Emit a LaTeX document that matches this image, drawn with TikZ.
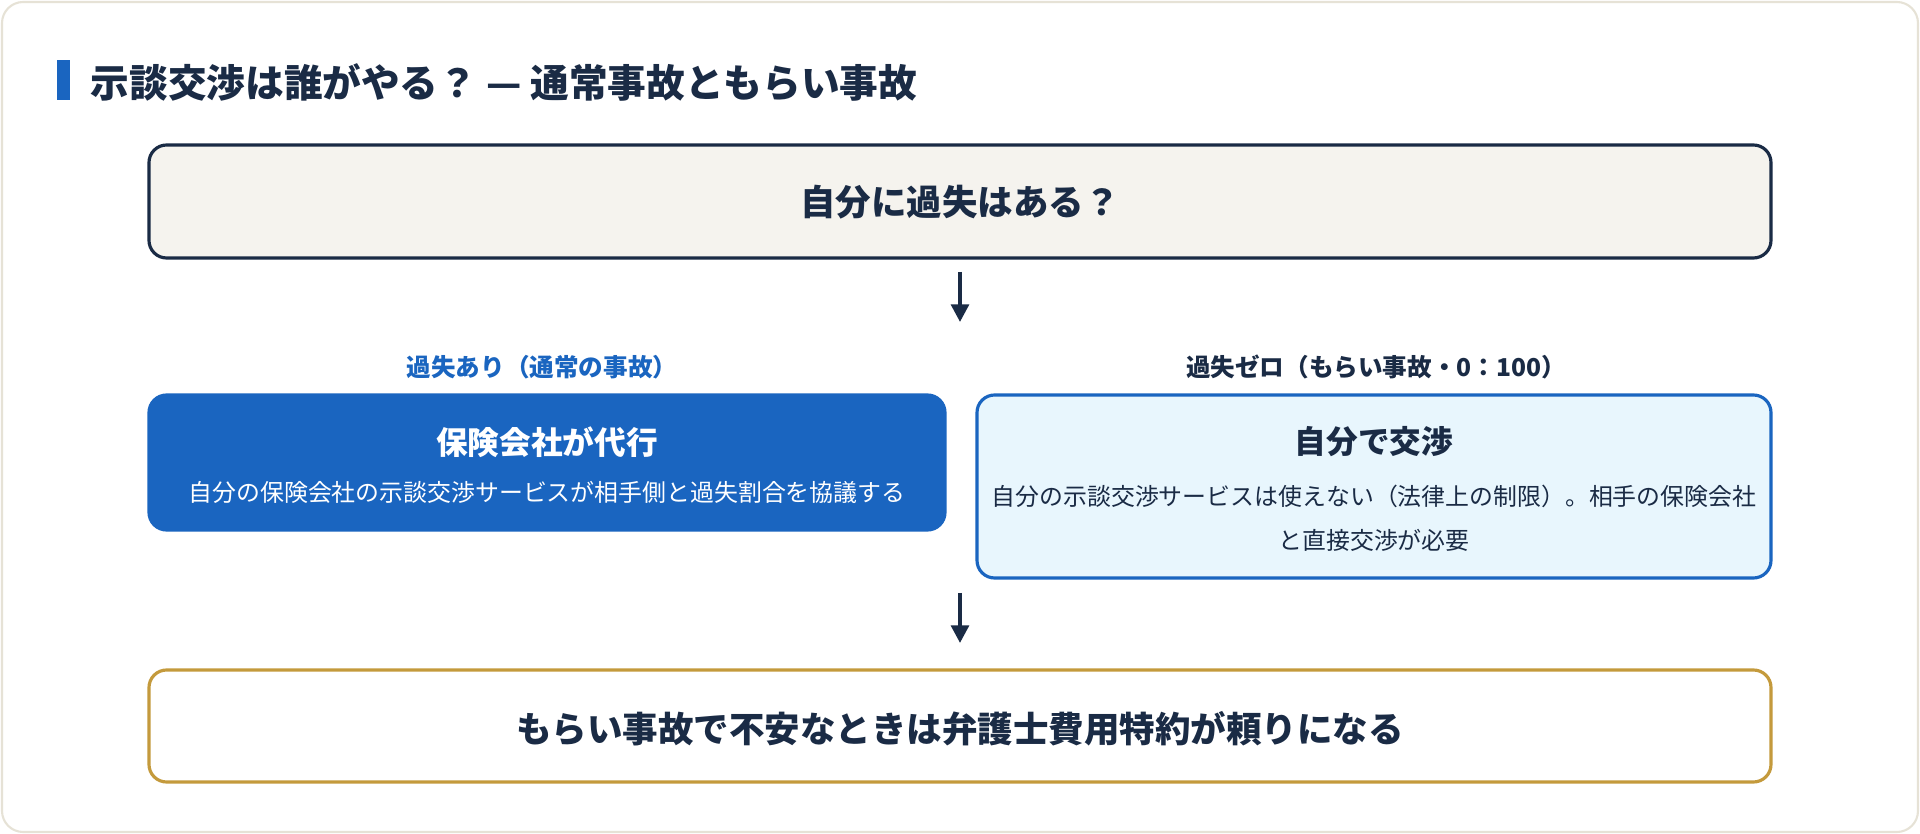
\documentclass[tikz,border=0pt]{standalone}
\usepackage{fontspec}
\setmainfont{Noto Sans CJK JP}
\usetikzlibrary{arrows.meta,positioning}
\definecolor{navy}{HTML}{1A2B45}
\definecolor{cardline}{HTML}{E6E2D6}
\definecolor{askfill}{HTML}{F5F3EE}
\definecolor{mainblue}{HTML}{1A65C0}
\definecolor{paleblue}{HTML}{E8F6FD}
\definecolor{gold}{HTML}{C49A3C}
\tikzset{
  box/.style={rounded corners=5pt, line width=0.9pt, inner sep=0pt},
  flow/.style={-{Triangle[length=5pt,width=5pt]}, line width=1.1pt, draw=navy},
  big/.style={font=\fontsize{10.1}{12}\selectfont\bfseries, text=navy},
  small/.style={font=\fontsize{6.8}{12.5}\selectfont, align=center},
}
\begin{document}
\begin{tikzpicture}[x=0.1mm,y=-0.1mm]
    \useasboundingbox (0,0) rectangle (1920,834);
    %% card
    \draw[cardline, fill=white, line width=0.6pt, rounded corners=6pt] (2,2) rectangle (1918,832);
    \fill[mainblue] (57,60) rectangle (70,100);
    \node[big, font=\fontsize{11}{13}\selectfont\bfseries, anchor=west, inner sep=0pt] (title) at (90,82)
        {示談交渉は誰がやる？ — 通常事故ともらい事故};

    %% question
    \draw[box, draw=navy, fill=askfill] (149,145) rectangle (1771,258);
    \node[big] (ask) at (960,202) {自分に過失はある？};
    \coordinate (a1s) at (960,272);
    \coordinate (a1e) at (960,322);
    \draw[flow] (a1s) -- (a1e);

    %% branches
    \node[font=\fontsize{7}{8}\selectfont\bfseries, text=mainblue] (lyes) at (542,367) {過失あり（通常の事故）};
    \node[font=\fontsize{7}{8}\selectfont\bfseries, text=navy] (lno) at (1376,367) {過失ゼロ（もらい事故・0：100）};

    \draw[box, draw=mainblue, fill=mainblue] (149,395) rectangle (945,530);
    \node[big, font=\fontsize{9}{11}\selectfont\bfseries, text=white] (agent) at (547,442) {保険会社が代行};
    \node[small, text=white] (agenttxt) at (547,492) {自分の保険会社の示談交渉サービスが相手側と過失割合を協議する};

    \draw[box, draw=mainblue, fill=paleblue] (977,395) rectangle (1771,578);
    \node[big, font=\fontsize{9}{11}\selectfont\bfseries] (self) at (1374,442) {自分で交渉};
    \node[small, text=navy] (selftxt) at (1374,518)
        {自分の示談交渉サービスは使えない（法律上の制限）。相手の保険会社\\と直接交渉が必要};

    \coordinate (a2s) at (960,593);
    \coordinate (a2e) at (960,643);
    \draw[flow] (a2s) -- (a2e);

    %% conclusion
    \draw[box, draw=gold, fill=white] (149,670) rectangle (1771,782);
    \node[big] (tip) at (960,729) {もらい事故で不安なときは弁護士費用特約が頼りになる};
\end{tikzpicture}
\end{document}
